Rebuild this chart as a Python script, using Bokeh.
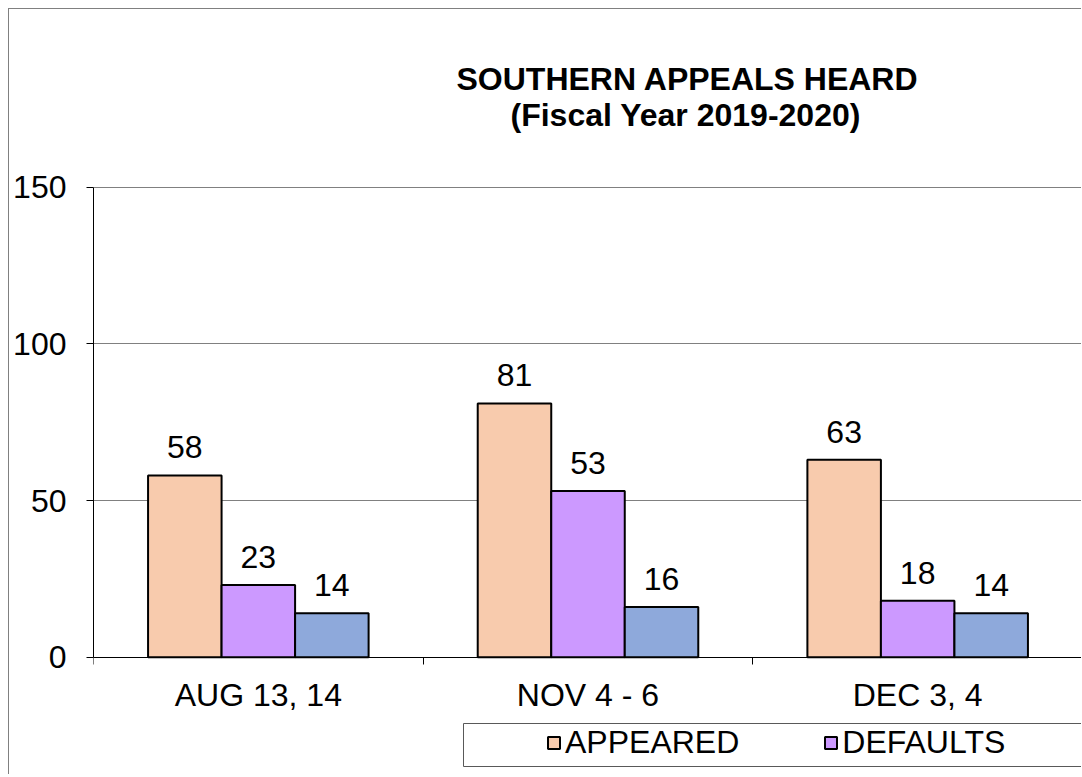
import numpy as np
from bokeh.plotting import figure
from bokeh.models import ColumnDataSource, FixedTicker, Legend, LegendItem, Label, BoxAnnotation
from bokeh.embed import file_html
from bokeh.resources import INLINE
from bokeh.core.properties import value

# ---- data ----
categories = ["AUG 13, 14", "NOV 4 - 6", "DEC 3, 4"]
appeared = [58, 81, 63]
defaults = [23, 53, 18]
third = [14, 16, 14]
series_names = ["APPEARED", "DEFAULTS", "OTHER"]
series_colors = ["#F8CBAD", "#CC99FF", "#8EA9DB"]
y_ticks = [0, 50, 100, 150]
title_lines = ["SOUTHERN APPEALS HEARD", "(Fiscal Year 2019-2020)"]

FONT = "Liberation Sans"
FS = "32px"

centers = np.arange(len(categories)) + 0.5
bar_w = 0.223

# the plot frame fills the canvas (apart from the y-axis panel);
# the axes are bounded / pinned so the data area spans 0..150
p = figure(width=1073, height=766, x_range=(0, len(categories)), y_range=(-37.76, 206.71),
           output_backend="svg", toolbar_location=None,
           min_border_left=84, min_border_right=0, min_border_top=0, min_border_bottom=0)
p.styles = {"margin-left": "8px", "margin-top": "8px",
            "border-left": "1px solid #808080", "border-top": "1px solid #808080"}
p.outline_line_color = None
p.background_fill_color = "white"
p.border_fill_color = "white"

# y axis
p.yaxis.ticker = FixedTicker(ticks=y_ticks)
p.yaxis.bounds = (0, 150)
p.yaxis.major_tick_in = 0
p.yaxis.major_tick_out = 7
p.yaxis.minor_tick_line_color = None
p.yaxis.axis_line_color = "black"
p.yaxis.major_tick_line_color = "black"
p.yaxis.major_label_text_font = FONT
p.yaxis.major_label_text_font_size = FS
p.yaxis.major_label_text_color = "black"
p.yaxis.major_label_standoff = 20

# x axis: labels at category centres, ticks at category boundaries
p.xaxis.fixed_location = 0
p.xaxis.ticker = FixedTicker(ticks=list(centers), minor_ticks=list(range(len(categories) + 1)))
p.xaxis.major_label_overrides = {float(c): cat for c, cat in zip(centers, categories)}
p.xaxis.major_tick_in = 0
p.xaxis.major_tick_out = 0
p.xaxis.minor_tick_in = 0
p.xaxis.minor_tick_out = 7
p.xaxis.minor_tick_line_color = "black"
p.xaxis.axis_line_color = "black"
p.xaxis.major_label_text_font = FONT
p.xaxis.major_label_text_font_size = FS
p.xaxis.major_label_text_color = "black"
p.xaxis.major_label_standoff = 13

p.xgrid.visible = False
p.ygrid.grid_line_color = "#808080"
p.ygrid.grid_line_width = 1

renderers = []
for i, (vals, name, col) in enumerate(zip([appeared, defaults, third], series_names, series_colors)):
    src = ColumnDataSource(dict(x=centers + (i - 1) * bar_w, top=vals, label=[str(v) for v in vals]))
    r = p.vbar(x="x", top="top", width=bar_w, source=src, fill_color=col,
               line_color="black", line_width=2)
    p.text(x="x", y="top", text="label", source=src, text_align="center",
           text_baseline="alphabetic", y_offset=-28, text_font=value(FONT),
           text_font_size=FS, text_color="black")
    renderers.append(r)

# legend frame (runs off the right edge, as in the reference)
p.add_layout(BoxAnnotation(left=370, right=1010, bottom=9, top=52,
                           left_units="screen", right_units="screen",
                           bottom_units="screen", top_units="screen",
                           fill_color="white", fill_alpha=1,
                           line_color="#595959", line_width=1, line_alpha=1))

legend = Legend(items=[LegendItem(label=series_names[0], renderers=[renderers[0]]),
                       LegendItem(label=series_names[1], renderers=[renderers[1]])],
                orientation="horizontal", location=(453, 14),
                padding=0, spacing=84, margin=0,
                glyph_width=15, glyph_height=15, label_standoff=4,
                label_text_font=FONT, label_text_font_size=FS, label_text_color="black",
                border_line_alpha=0, background_fill_alpha=0)
p.add_layout(legend, "center")

# chart title (two lines)
p.add_layout(Label(x=363, y=697, x_units="screen", y_units="screen", text=title_lines[0],
                   text_align="left", text_baseline="alphabetic", text_font=FONT,
                   text_font_size=FS, text_font_style="bold", text_color="black"))
p.add_layout(Label(x=417, y=661, x_units="screen", y_units="screen", text=title_lines[1],
                   text_align="left", text_baseline="alphabetic", text_font=FONT,
                   text_font_size=FS, text_font_style="bold", text_color="black"))

open("out.html", "w").write(file_html(p, INLINE))
